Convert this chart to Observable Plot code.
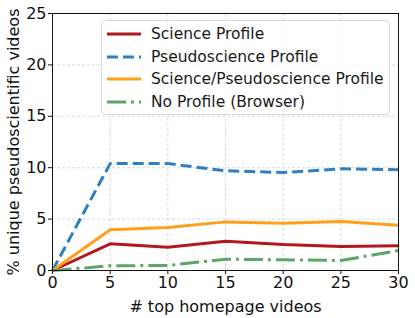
<!DOCTYPE html>
<html>
<head>
<meta charset="utf-8">
<script src="https://cdn.jsdelivr.net/npm/d3@7"></script>
<script src="https://cdn.jsdelivr.net/npm/@observablehq/plot@0.6"></script>
<style>
  html, body { margin: 0; padding: 0; background: #fff; }
  #wrap { position: relative; width: 415px; height: 318px; font-family: "DejaVu Sans", sans-serif; }
  #legend { position: absolute; left: 101px; top: 20px; width: 289px; height: 95px;
    border: 1px solid #d8d8d8; border-radius: 4px; background: rgba(255,255,255,0.85); box-sizing: border-box; }
  .item { position: absolute; left: 4px; height: 22px; display: flex; align-items: center; font-size: 15.5px; color: #1a1a1a; }
  .item svg { margin-right: 10px; }
</style>
</head>
<body>
<div id="wrap"><div id="chart"></div><div id="legend"></div></div>
<script>
const xs = [0, 5, 10, 15, 20, 25, 30];
const seriesNames = ["Science Profile", "Pseudoscience Profile", "Science/Pseudoscience Profile", "No Profile (Browser)"];
const science = [0, 2.6, 2.27, 2.85, 2.53, 2.33, 2.4];
const pseudo = [0, 10.4, 10.4, 9.7, 9.53, 9.89, 9.8];
const mixed = [0, 3.96, 4.18, 4.73, 4.6, 4.77, 4.4];
const noProfile = [0, 0.46, 0.49, 1.1, 1.04, 0.97, 1.95];
const xTicks = [0, 5, 10, 15, 20, 25, 30];
const yTicks = [0, 5, 10, 15, 20, 25];

const colors = ["#b2191f", "#2f7fc0", "#ffa01a", "#5fa468"];
const dashes = [null, "11,5", null, "19,5,3,5"];
const allVals = [science, pseudo, mixed, noProfile];

const rows = (vals, name) => xs.map((x, i) => ({x, y: vals[i], name}));

const lineMarks = allVals.map((vals, k) => Plot.line(rows(vals, seriesNames[k]), {
  x: "x", y: "y", stroke: colors[k], strokeWidth: 3, strokeDasharray: dashes[k],
  strokeLinejoin: "miter", strokeLinecap: "butt"
}));

const chart = Plot.plot({
  width: 415, height: 318,
  marginLeft: 52, marginRight: 17, marginTop: 13, marginBottom: 48,
  style: {fontFamily: "DejaVu Sans, sans-serif", fontSize: "16px", color: "#111", background: "white"},
  x: {domain: [0, 30]},
  y: {domain: [0, 25]},
  marks: [
    Plot.gridX(xTicks, {stroke: "#cfcfcf", strokeOpacity: 1, strokeDasharray: "3,2", strokeWidth: 0.8}),
    Plot.gridY(yTicks, {stroke: "#cfcfcf", strokeOpacity: 1, strokeDasharray: "3,2", strokeWidth: 0.8}),
    ...lineMarks,
    Plot.frame({stroke: "#111", strokeWidth: 1}),
    Plot.axisX({ticks: xTicks, tickSize: 4, tickPadding: 2, fontSize: 16, label: "# top homepage videos", labelAnchor: "center", labelOffset: 41, labelArrow: "none"}),
    Plot.axisY({ticks: yTicks, tickSize: 4, tickPadding: 2, fontSize: 16, label: "% unique pseudoscientific videos", labelAnchor: "center", labelOffset: 45, labelArrow: "none"})
  ]
});
document.getElementById("chart").appendChild(chart);

// Legend
const leg = document.getElementById("legend");
seriesNames.forEach((name, k) => {
  const div = document.createElement("div");
  div.className = "item";
  div.style.top = (2 + k * 22.7) + "px";
  div.innerHTML = `<svg width="35" height="10"><line x1="1" x2="35" y1="5" y2="5" stroke="${colors[k]}" stroke-width="3" ${dashes[k] ? `stroke-dasharray="${dashes[k]}"` : ""}/></svg><span>${name}</span>`;
  leg.appendChild(div);
});
</script>
</body>
</html>
